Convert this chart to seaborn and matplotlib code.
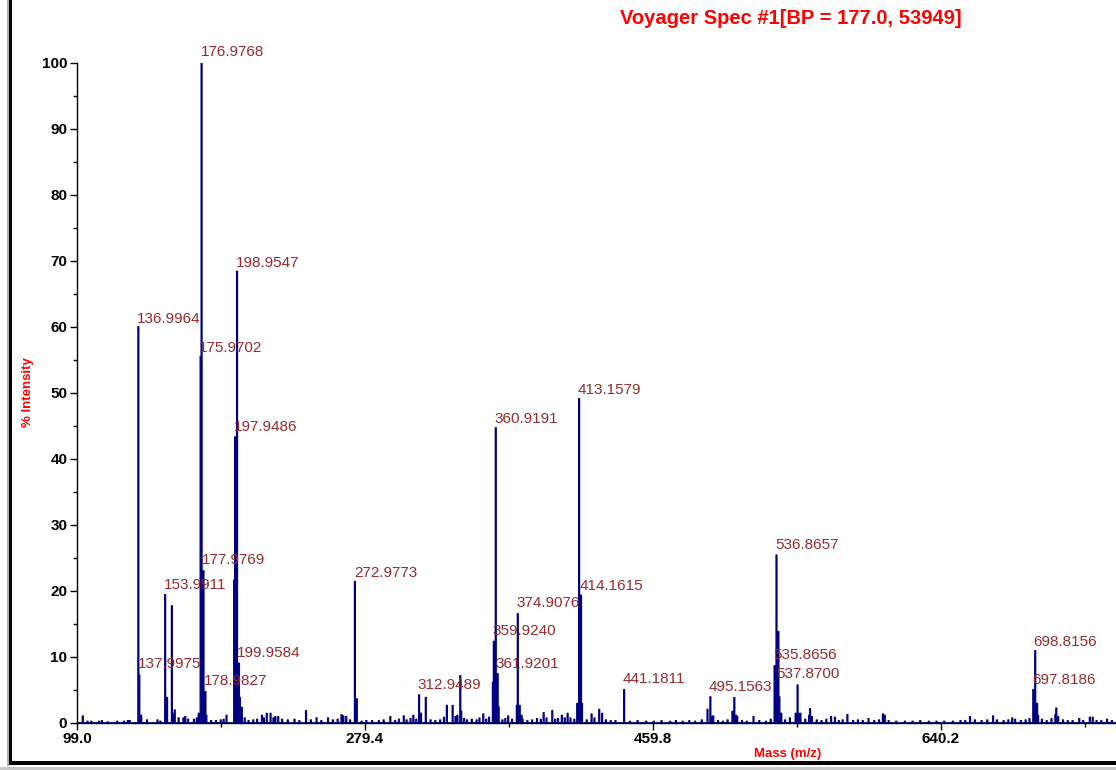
import numpy as np
import pandas as pd
import matplotlib
matplotlib.use("Agg")
import matplotlib.pyplot as plt
from matplotlib.patches import Rectangle
from matplotlib.ticker import FixedLocator, MultipleLocator
import seaborn as sns

# ---------------- data ----------------
# main / labelled peaks: m/z and % intensity
peak_mz = [136.9964, 137.9975, 138.99, 153.9911, 154.99, 157.99, 158.99, 159.99,
           174.97, 175.9702, 176.9768, 177.9769, 178.9827, 179.98, 192.3,
           196.95, 197.9486, 198.9547, 199.9584, 200.96, 201.96,
           272.9773, 273.98, 312.9489, 313.95, 316.95, 330.5, 333.7, 338.5, 339.5,
           358.92, 359.9240, 360.9191, 361.9201, 362.92,
           373.91, 374.9076, 375.91, 376.9, 412.15, 413.1579, 414.1615, 415.16,
           420.8, 425.5, 427.6, 441.1811, 493.6, 495.1563, 496.16, 509.0, 510.5, 511.5,
           535.8656, 536.8657, 537.8700, 538.87, 539.87, 548.9, 549.9, 550.9,
           557.0, 558.1, 559.1, 697.8186, 698.8156, 699.82, 700.8, 711.6, 712.2, 713.2]
peak_int = [60.1, 7.3, 1.2, 19.5, 3.9, 17.8, 1.5, 2.0,
            1.5, 55.6, 100.0, 23.1, 4.8, 1.2, 1.2,
            21.7, 43.4, 68.5, 9.1, 3.9, 2.4,
            21.5, 3.7, 4.3, 1.5, 3.9, 2.7, 2.7, 7.2, 1.8,
            6.2, 12.4, 44.8, 7.5, 2.5,
            2.7, 16.6, 2.7, 1.2, 3.0, 49.2, 19.4, 3.0,
            1.4, 2.1, 1.5, 5.1, 2.1, 4.0, 1.0, 1.8, 3.9, 1.2,
            8.7, 25.5, 13.9, 4.0, 1.5, 1.5, 5.8, 1.5,
            1.2, 2.2, 1.0, 5.1, 11.0, 3.0, 1.2, 1.3, 2.3, 1.0]

# small background peaks
noise_mz = [102.3, 105.5, 108.0, 112.3, 114.4, 118.0, 124.0, 128.0, 130.5, 132.0,
            142.6, 148.9, 151.0, 162.5, 165.2, 166.6, 168.5, 171.8, 173.5, 183.0,
            186.0, 189.0, 190.5, 203.5, 206.0, 209.0, 211.5, 214.7, 216.0, 217.8,
            219.9, 221.5, 223.0, 225.0, 227.0, 231.0, 235.0, 238.0, 242.4, 245.0,
            249.0, 252.0, 256.0, 259.0, 262.0, 264.4, 265.8, 267.5, 269.5, 277.0,
            280.0, 283.6, 288.0, 291.0, 295.0, 298.0, 300.5, 303.2, 305.0, 307.5,
            309.3, 311.0, 320.1, 323.0, 326.0, 328.5, 335.5, 337.0, 341.0, 343.0,
            346.2, 349.0, 351.0, 353.0, 355.0, 357.0, 365.0, 367.0, 369.0, 371.0,
            378.0, 381.0, 384.0, 387.0, 389.0, 391.0, 393.0, 396.3, 398.0, 400.0,
            402.6, 404.0, 405.7, 408.0, 410.0, 418.0, 423.0, 430.0, 433.0, 436.0,
            445.0, 450.0, 455.0, 460.0, 465.0, 470.0, 474.0, 478.0, 482.0, 486.0,
            490.0, 497.2, 500.0, 503.0, 506.0, 512.2, 515.0, 518.0, 522.6, 526.0,
            530.0, 533.0, 542.0, 545.0, 552.0, 555.0, 562.0, 565.0, 568.0, 571.0,
            573.7, 576.0, 578.0, 581.5, 585.0, 588.0, 591.0, 594.6, 598.0, 601.0,
            603.7, 604.5, 607.0, 612.0, 617.0, 622.0, 627.0, 632.0, 637.0, 642.0,
            647.0, 652.0, 655.0, 658.3, 661.0, 665.0, 669.0, 672.4, 675.0, 679.0,
            682.0, 684.5, 686.5, 690.0, 693.0, 695.0, 703.0, 706.0, 709.0, 716.0,
            719.0, 722.0, 726.2, 729.0, 733.0, 734.6, 737.0, 740.0, 743.8, 747.0]
noise_int = [1.1, 0.3, 0.3, 0.3, 0.4, 0.2, 0.3, 0.3, 0.4, 0.4,
             0.5, 0.5, 0.3, 0.8, 0.8, 1.0, 0.6, 0.6, 0.8, 0.4,
             0.4, 0.5, 0.6, 0.8, 0.4, 0.5, 0.6, 1.2, 0.8, 1.5,
             1.5, 0.8, 1.0, 1.0, 0.6, 0.5, 0.6, 0.4, 1.9, 0.5,
             0.8, 0.4, 0.8, 0.5, 0.6, 1.3, 1.1, 1.0, 0.5, 0.3,
             0.4, 0.4, 0.4, 0.5, 1.0, 0.4, 0.6, 1.1, 0.5, 0.7,
             1.2, 0.6, 0.5, 0.4, 0.5, 0.9, 1.0, 1.2, 0.7, 0.5,
             0.6, 0.5, 0.8, 1.4, 0.6, 0.9, 0.5, 0.7, 1.1, 0.6,
             0.6, 0.4, 0.5, 0.7, 0.6, 1.6, 0.8, 1.9, 0.6, 0.7,
             1.2, 0.8, 1.5, 0.8, 0.6, 0.5, 0.8, 0.5, 0.4, 0.4,
             0.3, 0.4, 0.3, 0.3, 0.4, 0.3, 0.4, 0.3, 0.4, 0.3,
             0.5, 1.1, 0.4, 0.3, 0.5, 1.0, 0.4, 0.3, 1.0, 0.4,
             0.3, 0.6, 0.5, 0.8, 1.5, 0.6, 0.5, 0.4, 0.6, 1.0,
             0.9, 0.4, 0.5, 1.3, 0.4, 0.5, 0.4, 0.7, 0.4, 0.5,
             1.4, 1.2, 0.4, 0.3, 0.3, 0.3, 0.4, 0.3, 0.3, 0.3,
             0.3, 0.4, 0.4, 1.0, 0.5, 0.4, 0.5, 1.1, 0.5, 0.4,
             0.5, 0.8, 0.6, 0.4, 0.5, 0.7, 0.6, 0.4, 0.7, 0.5,
             0.4, 0.4, 0.7, 0.4, 0.9, 0.9, 0.4, 0.4, 0.6, 0.4]

# peak annotations: label text and the height at which each label sits
label_text = ["176.9768", "198.9547", "136.9964", "175.9702", "197.9486", "413.1579",
              "360.9191", "536.8657", "272.9773", "177.9769", "153.9911", "414.1615",
              "374.9076", "359.9240", "698.8156", "137.9975", "199.9584", "535.8656",
              "361.9201", "537.8700", "441.1811", "697.8186", "178.9827", "312.9489",
              "495.1563"]
label_y = [100.6, 68.6, 60.2, 55.7, 43.7, 49.3,
           45.0, 25.9, 21.7, 23.6, 19.8, 19.7,
           17.1, 12.8, 11.2, 7.8, 9.5, 9.2,
           7.9, 6.3, 5.5, 5.4, 5.2, 4.7,
           4.3]

x_ticks = [99.0, 279.4, 459.8, 640.2]
x_tick_labels = ["99.0", "279.4", "459.8", "640.2"]
y_ticks = [0, 10, 20, 30, 40, 50, 60, 70, 80, 90, 100]

title = "Voyager Spec #1[BP = 177.0, 53949]"

# ---------------- plotting ----------------
sns.set_style("ticks")
plt.rcParams["font.family"] = ["Liberation Sans", "DejaVu Sans"]

W, H = 1116, 770
fig = plt.figure(figsize=(W / 100, H / 100), dpi=100)
ax_left, ax_bottom_px, ax_top_px = 77, 722.7, 63
ax = fig.add_axes([ax_left / W, 1 - ax_bottom_px / H, 1 - ax_left / W,
                   (ax_bottom_px - ax_top_px) / H])

df = pd.DataFrame({"mz": peak_mz + noise_mz, "intensity": peak_int + noise_int})
sns.histplot(data=df, x="mz", weights="intensity", binwidth=0.6, binrange=(99.0, 752.0),
             element="step", fill=True, alpha=1.0, color="#000080",
             edgecolor="#000080", linewidth=0.9, ax=ax)

ax.set_xlim(99.0, 749.8)
ax.set_ylim(0, 100)
sns.despine(ax=ax, top=True, right=True)
ax.spines["left"].set_color("black")
ax.spines["bottom"].set_color("black")
ax.spines["left"].set_linewidth(1.0)
ax.spines["bottom"].set_linewidth(1.0)

ax.set_xticks(x_ticks)
ax.set_xticklabels(x_tick_labels)
ax.xaxis.set_minor_locator(FixedLocator([(a + b) / 2 for a, b in zip(x_ticks, x_ticks[1:] + [x_ticks[-1] + 180.4])]))
ax.set_yticks(y_ticks)
ax.set_yticklabels([str(v) for v in y_ticks])
ax.yaxis.set_minor_locator(MultipleLocator(5))
ax.tick_params(axis="both", which="major", length=5, width=1, color="black",
               labelsize=11, labelcolor="black", pad=2)
ax.tick_params(axis="both", which="minor", length=3, width=1, color="black")
for lab in ax.get_xticklabels() + ax.get_yticklabels():
    lab.set_fontweight("bold")

ax.set_xlabel("Mass (m/z)", color="red", fontweight="bold", fontsize=9.5)
ax.set_ylabel("% Intensity", color="red", fontweight="bold", fontsize=9.5)
ax.xaxis.set_label_coords((788 - ax_left) / (W - ax_left), -(748 - ax_bottom_px) / (ax_bottom_px - ax_top_px))
ax.yaxis.set_label_coords(-(ax_left - 34) / (W - ax_left), (ax_bottom_px - 392) / (ax_bottom_px - ax_top_px))

for txt, ly in zip(label_text, label_y):
    ax.text(float(txt) - 0.6, ly, txt, ha="left", va="bottom", fontsize=11,
            color="#9A2A2A", clip_on=False)

fig.text(620 / W, 1 - 18 / H, title, ha="left", va="center", color="red",
         fontweight="bold", fontsize=14.5)

# window frame
fig.add_artist(Rectangle((7 / W, 4 / H), 2.3 / W, 1 - 4 / H, transform=fig.transFigure,
                         color="#b0b0b0", lw=0))
fig.add_artist(Rectangle((9.3 / W, 5 / H), 2.4 / W, 1 - 5 / H, transform=fig.transFigure,
                         color="black", lw=0))
fig.add_artist(Rectangle((9.3 / W, 5 / H), 1 - 9.3 / W, 4 / H, transform=fig.transFigure,
                         color="black", lw=0))
fig.add_artist(Rectangle((0, 0), 1, 3.3 / H, transform=fig.transFigure,
                         color="#c8c8c8", lw=0))

fig.savefig("out.png", dpi=100, facecolor="white")
